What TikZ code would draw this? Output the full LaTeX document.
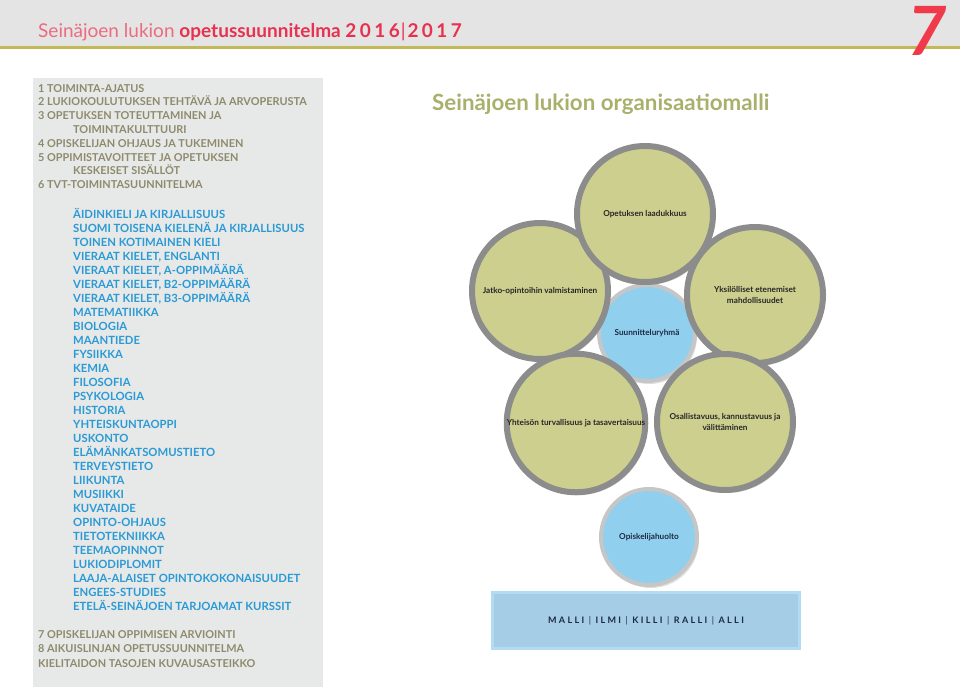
\documentclass[tikz,border=0pt]{standalone}
\usepackage{fontspec}
\setmainfont{Lato}
\usetikzlibrary{shadows}

\definecolor{hdrgray}{HTML}{E4E4E4}
\definecolor{olivebar}{HTML}{C2B85A}
\definecolor{titlered}{HTML}{E8304F}
\definecolor{titlepink}{HTML}{EC6B80}
\definecolor{sevenred}{HTML}{F03A4B}
\definecolor{panelgray}{HTML}{E7E8E8}
\definecolor{tocolive}{HTML}{8E8B6C}
\definecolor{listblue}{HTML}{2A9AD5}
\definecolor{orgolive}{HTML}{A9B06B}
\definecolor{circolive}{HTML}{CDCF8E}
\definecolor{rimgray}{HTML}{8C8C8C}
\definecolor{circblue}{HTML}{90D0EE}
\definecolor{rimlight}{HTML}{C6C6C6}
\definecolor{barblue}{HTML}{A5CDE6}
\definecolor{barrim}{HTML}{B3DBF2}
\definecolor{navy}{HTML}{1D2942}

\begin{document}
\begin{tikzpicture}[x=1pt,y=-1pt,
	toc/.style={anchor=base west, inner sep=0pt, text=tocolive, font=\fontsize{10.9}{12}\selectfont\bfseries},
	subj/.style={toc, text=listblue, font=\fontsize{11.3}{12}\selectfont\bfseries},
	olivecirc/.style={circle, draw=rimgray, line width=6pt, fill=circolive, minimum size=136pt, inner sep=0pt,
		align=center, text=black!85, font=\fontsize{8.2}{10.5}\selectfont\bfseries,
		drop shadow={shadow xshift=2pt, shadow yshift=-3pt, opacity=0.25}},
	bluecirc/.style={olivecirc, draw=rimlight, line width=4pt, fill=circblue, minimum size=96pt, text=navy}]
		\useasboundingbox (0,0) rectangle (960,688);

		% header
		\fill[hdrgray] (0,0) rectangle (960,46);
		\fill[olivebar] (0,46) rectangle (960,49);
		\node[anchor=base west, inner sep=0pt, font=\fontsize{19}{20}\selectfont] (title) at (38,37)
			{\color{titlepink}Seinäjoen lukion \color{titlered}\bfseries opetussuunnitelma {\addfontfeatures{LetterSpace=18}2016\kern1pt{\mdseries|}\kern2pt2017}};
		\node[anchor=base, inner sep=0pt, text=sevenred, font=\fontsize{68}{68}\selectfont\bfseries\itshape] (seven) at (927,55) {7};

		% contents panel
		\fill[panelgray] (33,78) rectangle (323,687);
		\foreach \x/\t [count=\i from 0] in {38/1 TOIMINTA-AJATUS, 38/2 LUKIOKOULUTUKSEN TEHTÄVÄ JA ARVOPERUSTA,
			38/3 OPETUKSEN TOTEUTTAMINEN JA, 73/TOIMINTAKULTTUURI, 38/4 OPISKELIJAN OHJAUS JA TUKEMINEN,
			38/5 OPPIMISTAVOITTEET JA OPETUKSEN, 73/KESKEISET SISÄLLÖT, 38/6 TVT-TOIMINTASUUNNITELMA}
			\node[toc] (toc\i) at (\x,92+13.8*\i) {\t};

		\foreach \t [count=\i from 0] in {ÄIDINKIELI JA KIRJALLISUUS, SUOMI TOISENA KIELENÄ JA KIRJALLISUUS,
			TOINEN KOTIMAINEN KIELI, {VIERAAT KIELET, ENGLANTI}, {VIERAAT KIELET, A-OPPIMÄÄRÄ},
			{VIERAAT KIELET, B2-OPPIMÄÄRÄ}, {VIERAAT KIELET, B3-OPPIMÄÄRÄ}, MATEMATIIKKA, BIOLOGIA,
			MAANTIEDE, FYSIIKKA, KEMIA, FILOSOFIA, PSYKOLOGIA, HISTORIA, YHTEISKUNTAOPPI, USKONTO,
			ELÄMÄNKATSOMUSTIETO, TERVEYSTIETO, LIIKUNTA, MUSIIKKI, KUVATAIDE, OPINTO-OHJAUS,
			TIETOTEKNIIKKA, TEEMAOPINNOT, LUKIODIPLOMIT, LAAJA-ALAISET OPINTOKOKONAISUUDET,
			ENGEES-STUDIES, ETELÄ-SEINÄJOEN TARJOAMAT KURSSIT}
			\node[subj] (subj\i) at (73,218+14*\i) {\t};

		\node[toc] (toc8) at (38,638) {7 OPISKELIJAN OPPIMISEN ARVIOINTI};
		\node[toc] (toc9) at (38,652.5) {8 AIKUISLINJAN OPETUSSUUNNITELMA};
		\node[toc] (toc10) at (38,667) {KIELITAIDON TASOJEN KUVAUSASTEIKKO};

		% organisation model
		\node[anchor=base west, inner sep=0pt, text=orgolive, font=\fontsize{22.3}{22}\selectfont\bfseries] (orgtitle) at (432,110)
			{Seinäjoen lukion organisaatiomalli};

		\node[bluecirc] (plan) at (647,333) {Suunnitteluryhmä};
		\node[olivecirc] (jatko) at (540,291) {Jatko-opintoihin valmistaminen};
		\node[olivecirc] (laatu) at (645,214) {Opetuksen laadukkuus};
		\node[olivecirc] (yksil) at (755,295) {Yksilölliset etenemiset\\mahdollisuudet};
		\node[olivecirc] (yhteis) at (576,423) {Yhteisön turvallisuus ja tasavertaisuus};
		\node[olivecirc] (osall) at (725,422) {Osallistavuus, kannustavuus ja\\välittäminen};
		\node[bluecirc] (huolto) at (649,537) {Opiskelijahuolto};

		\node[fill=barblue, draw=barrim, line width=3pt, minimum width=307pt, minimum height=56pt, text=navy,
			font=\fontsize{9}{10}\selectfont\bfseries\addfontfeatures{LetterSpace=26}] (schools) at (646,620.5)
			{MALLI {\mdseries|} ILMI {\mdseries|} KILLI {\mdseries|} RALLI {\mdseries|} ALLI};
	\end{tikzpicture}
\end{document}
